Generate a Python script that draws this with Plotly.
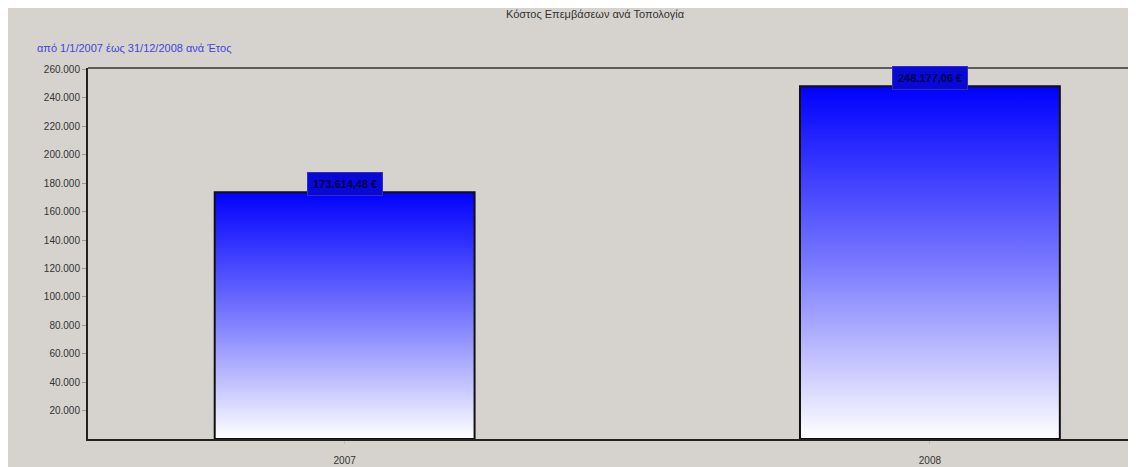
import plotly.graph_objects as go

years = ["2007", "2008"]
costs = [173614.48, 248177.06]
cost_labels = ["173.614,48 €", "248.177,06 €"]
y_ticks = [20000, 40000, 60000, 80000, 100000, 120000, 140000, 160000, 180000,
           200000, 220000, 240000, 260000]

title_text = "Κόστος Επεμβάσεων ανά Τοπολογία"
subtitle_text = "από 1/1/2007 έως 31/12/2008 ανά Έτος"

BG = "#d6d3ce"
bar_half = 0.222
PLOT_W = 1056
PLOT_H = 371

fig = go.Figure()
for i, (yr, v) in enumerate(zip(years, costs)):
    xs = [i - bar_half, i - bar_half, i + bar_half, i + bar_half, i - bar_half]
    ys = [0, v, v, 0, 0]
    fig.add_trace(go.Scatter(
        x=xs, y=ys, mode="lines", fill="toself",
        line=dict(color="#111111", width=2),
        fillgradient=dict(type="vertical",
                          colorscale=[[0, "#ffffff"], [0.5, "#7878ff"], [1, "#0000ff"]]),
        showlegend=False, hoverinfo="skip"))
    fig.add_annotation(x=i, y=v, text="<b>" + cost_labels[i] + "</b>", showarrow=False,
                       yanchor="bottom", yshift=-4,
                       font=dict(family="Liberation Sans", size=11, color="#000044"),
                       bgcolor="#0808d8", bordercolor="#3030b0", borderwidth=1,
                       borderpad=5)

fig.add_annotation(text=title_text, xref="paper", yref="paper", x=(595 - 88) / PLOT_W,
                   y=1 + 54 / PLOT_H, showarrow=False, xanchor="center", yanchor="middle",
                   font=dict(family="Liberation Sans", size=11, color="#333333"))
fig.add_annotation(text=subtitle_text, xref="paper", yref="paper",
                   x=(35 - 88) / PLOT_W, y=1 + 20 / PLOT_H, showarrow=False,
                   xanchor="left", yanchor="middle",
                   font=dict(family="Liberation Sans", size=11, color="#4444dd"))

fig.add_shape(type="line", xref="paper", yref="paper", x0=0, x1=1, y0=1, y1=1,
              line=dict(color="#333333", width=1.5))

fig.update_layout(
    width=1136, height=467,
    margin=dict(l=80, r=0, t=60, b=36),
    paper_bgcolor=BG, plot_bgcolor=BG,
    separators=",.",
    font=dict(family="Liberation Sans", size=10, color="#333333"),
    xaxis=dict(range=[-0.4385, 1.3658], tickvals=[0, 1], ticktext=years,
               showgrid=False, zeroline=False, showline=True,
               linecolor="#222222", linewidth=2, ticks="outside",
               ticklen=3, tickcolor="#bbbbbb", ticklabelstandoff=8,
               tickfont=dict(size=10, color="#333333")),
    yaxis=dict(range=[0, 261000], tickvals=y_ticks, tickformat=",d",
               showgrid=False, zeroline=False, showline=True,
               linecolor="#222222", linewidth=2, ticks="outside",
               ticklen=4, tickcolor="#999999", tickfont=dict(size=10, color="#333333")),
)

fig.write_html("out.html")
